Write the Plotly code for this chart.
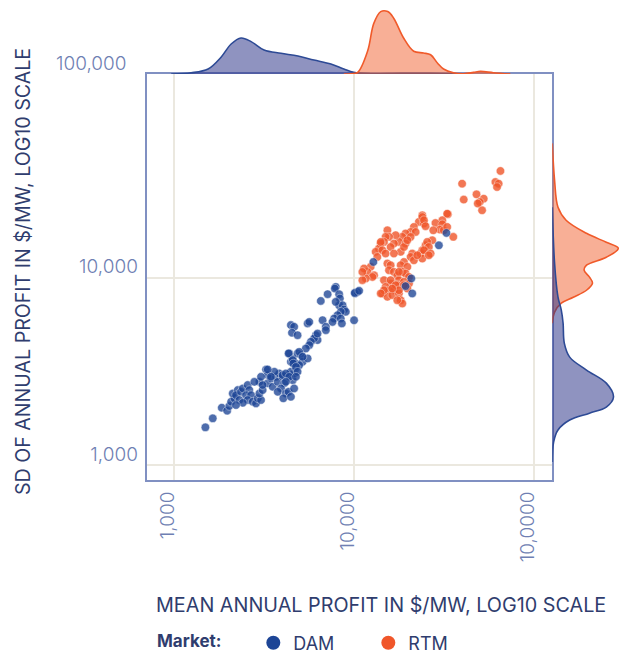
import plotly.graph_objects as go

W, H = 619, 661

# ---------------- data (log10 of $/MW values) ----------------
dam_log_mean = [3.173, 3.214, 3.264, 3.294, 3.306, 3.316, 3.334, 3.325, 3.353, 3.343,
                3.371, 3.381, 3.408, 3.417, 3.399, 3.427, 3.408, 3.436, 3.454, 3.464,
                3.482, 3.362, 3.381, 3.343, 3.473, 3.491, 3.473, 3.510, 3.519, 3.519,
                3.537, 3.547, 3.565, 3.575, 3.583, 3.602, 3.611, 3.593, 3.575, 3.620,
                3.635, 3.606, 3.639, 3.658, 3.666, 3.648, 3.676, 3.666, 3.648, 3.658,
                3.639, 3.685, 3.704, 3.676, 3.713, 3.694, 3.556, 3.491, 3.445, 3.897,
                3.892, 3.852, 3.814, 3.916, 3.920, 3.916, 3.935, 3.943, 3.953, 3.925,
                3.907, 3.888, 3.879, 3.925, 3.931, 4.004, 4.018, 3.999, 3.824, 3.842,
                3.842, 3.787, 3.796, 3.777, 3.759, 3.750, 3.731, 3.694, 3.741, 3.713,
                3.648, 3.666, 3.654, 3.685, 3.741, 3.750, 3.796, 3.635, 3.658, 3.661,
                3.676, 3.685, 3.519, 3.537, 3.602, 3.620, 3.639, 3.482, 3.676, 4.106,
                4.003, 4.027, 4.317, 4.322, 4.285, 4.470, 4.512, 3.897, 3.648, 3.620]
dam_log_sd = [3.201, 3.249, 3.306, 3.290, 3.315, 3.338, 3.356, 3.382, 3.400, 3.373,
              3.391, 3.409, 3.427, 3.400, 3.373, 3.373, 3.347, 3.338, 3.329, 3.356,
              3.347, 3.347, 3.332, 3.320, 3.382, 3.400, 3.444, 3.510, 3.480, 3.436,
              3.462, 3.418, 3.471, 3.444, 3.489, 3.471, 3.436, 3.409, 3.391, 3.382,
              3.391, 3.356, 3.480, 3.453, 3.489, 3.498, 3.516, 3.409, 3.551, 3.569,
              3.596, 3.596, 3.587, 3.542, 3.551, 3.533, 3.498, 3.427, 3.444, 3.951,
              3.942, 3.912, 3.876, 3.912, 3.889, 3.853, 3.853, 3.830, 3.818, 3.818,
              3.800, 3.782, 3.764, 3.782, 3.756, 3.916, 3.924, 3.773, 3.773, 3.738,
              3.720, 3.693, 3.667, 3.676, 3.658, 3.640, 3.622, 3.604, 3.569, 3.578,
              3.747, 3.738, 3.706, 3.693, 3.756, 3.764, 3.702, 3.596, 3.560, 3.542,
              3.524, 3.498, 3.510, 3.471, 3.480, 3.489, 3.471, 3.471, 3.471, 4.084,
              3.919, 3.930, 3.996, 3.916, 3.955, 4.173, 4.239, 3.871, 3.364, 3.444]

rtm_log_mean = [4.378, 4.359, 4.387, 4.331, 4.313, 4.341, 4.285, 4.267, 4.248, 4.230,
                4.184, 4.193, 4.174, 4.165, 4.220, 4.202, 4.147, 4.137, 4.119, 4.156,
                4.128, 4.174, 4.258, 4.285, 4.322, 4.313, 4.368, 4.378, 4.396, 4.378,
                4.331, 4.184, 4.202, 4.276, 4.258, 4.295, 4.193, 4.220, 4.239, 4.267,
                4.285, 4.304, 4.248, 4.276, 4.239, 4.202, 4.165, 4.174, 4.193, 4.220,
                4.156, 4.184, 4.211, 4.248, 4.258, 4.267, 4.239, 4.091, 4.073, 4.054,
                4.110, 4.101, 4.064, 4.045, 4.304, 4.295, 4.812, 4.599, 4.784, 4.802,
                4.793, 4.608, 4.679, 4.719, 4.697, 4.686, 4.710, 4.378, 4.387, 4.520,
                4.489, 4.451, 4.396, 4.489, 4.475, 4.439, 4.497, 4.550, 4.433, 4.405,
                4.414, 4.387, 4.424, 4.516, 4.516, 4.414, 4.350, 4.147, 4.045, 4.220,
                4.276, 4.313, 4.295, 4.248, 4.202, 4.230, 4.276, 4.165, 4.147, 4.248,
                4.211]
rtm_log_sd = [4.333, 4.298, 4.289, 4.271, 4.244, 4.244, 4.236, 4.218, 4.191, 4.227,
              4.253, 4.218, 4.218, 4.191, 4.182, 4.164, 4.182, 4.156, 4.138, 4.147,
              4.111, 4.129, 4.138, 4.182, 4.129, 4.111, 4.129, 4.147, 4.173, 4.102,
              4.093, 4.076, 4.067, 4.084, 4.067, 4.058, 4.040, 4.031, 4.013, 4.031,
              4.022, 4.004, 3.987, 3.978, 3.960, 3.969, 3.987, 3.951, 3.933, 3.933,
              3.916, 3.898, 3.907, 3.916, 3.880, 3.862, 3.880, 4.058, 4.031, 4.049,
              4.013, 4.004, 3.996, 3.987, 3.969, 3.942, 4.570, 4.502, 4.511, 4.502,
              4.484, 4.417, 4.445, 4.422, 4.404, 4.396, 4.360, 4.324, 4.307, 4.339,
              4.307, 4.292, 4.275, 4.285, 4.257, 4.253, 4.253, 4.218, 4.200, 4.191,
              4.164, 4.147, 4.129, 4.271, 4.342, 4.120, 4.120, 4.191, 4.031, 4.129,
              4.164, 4.218, 4.200, 4.031, 3.987, 3.960, 3.960, 3.933, 3.916, 3.933,
              3.942]

# marginal density curves (arbitrary density units)
dam_top_log = [2.983, 3.094, 3.188, 3.26, 3.316, 3.371, 3.427, 3.499, 3.593, 3.687,
               3.776, 3.870, 3.942, 3.997, 4.09, 4.26, 4.42, 4.59]
dam_top_dens = [0.0, 0.02, 0.083, 0.28, 0.5, 0.6, 0.54, 0.4, 0.345, 0.3,
                0.233, 0.167, 0.083, 0.027, 0.005, 0.013, 0.01, 0.0]
rtm_top_log = [3.942, 3.981, 4.019, 4.075, 4.108, 4.147, 4.186, 4.219, 4.274, 4.33,
               4.385, 4.424, 4.463, 4.496, 4.551, 4.607, 4.662, 4.701, 4.773, 4.867]
rtm_top_dens = [0.0, 0.005, 0.027, 0.39, 0.84, 1.04, 1.04, 0.93, 0.6, 0.38,
                0.35, 0.32, 0.18, 0.083, 0.022, 0.005, 0.027, 0.043, 0.022, 0.0]

rtm_right_log = [4.717, 4.52, 4.376, 4.307, 4.237, 4.189, 4.157, 4.109, 4.067, 4.04,
                 4.003, 3.971, 3.933, 3.896, 3.864, 3.816, 3.757]
rtm_right_dens = [0.0, 0.038, 0.095, 0.23, 0.57, 0.9, 1.1, 0.9, 0.57, 0.53,
                  0.62, 0.67, 0.57, 0.35, 0.15, 0.038, 0.0]
dam_right_log = [4.376, 4.077, 3.896, 3.827, 3.757, 3.651, 3.576, 3.507, 3.437, 3.363,
                 3.309, 3.277, 3.24, 3.187, 3.123, 3.016]
dam_right_dens = [0.0, 0.038, 0.095, 0.15, 0.18, 0.2, 0.29, 0.57, 0.9, 1.02,
                  0.9, 0.62, 0.29, 0.095, 0.022, 0.0]

x_tick_vals = [1000, 10000, 100000]
x_tick_text = ["1,000", "10,000", "10,0000"]
y_tick_vals = [1000, 10000]
y_tick_text = ["1,000", "10,000"]
y_top_label = "100,000"

markets = ["DAM", "RTM"]

# ---------------- styling ----------------
DAM_C = "#1d4596"
RTM_C = "#f0562a"
DAM_LINE = "#2d4a95"
RTM_LINE = "#f05a2a"
DAM_FILL = "rgba(40,48,135,0.52)"
RTM_FILL = "rgba(242,95,45,0.5)"
BOX = "#8090c2"
GRID = "#ebe8df"
TICK_C = "#6f7fb3"
TITLE_C = "#2f3d6e"
FONT = "Inter, Lato, sans-serif"

def p10(vals):
    return [10 ** v for v in vals]

fig = go.Figure()

# marginal densities - top
fig.add_trace(go.Scatter(x=p10(dam_top_log), y=dam_top_dens, mode="lines",
                         line=dict(color=DAM_LINE, width=1.6, shape="spline"),
                         fill="tozeroy", fillcolor=DAM_FILL, xaxis="x2", yaxis="y2",
                         showlegend=False, hoverinfo="skip"))
fig.add_trace(go.Scatter(x=p10(rtm_top_log), y=rtm_top_dens, mode="lines",
                         line=dict(color=RTM_LINE, width=1.6, shape="spline"),
                         fill="tozeroy", fillcolor=RTM_FILL, xaxis="x2", yaxis="y2",
                         showlegend=False, hoverinfo="skip"))
# marginal densities - right
fig.add_trace(go.Scatter(x=rtm_right_dens, y=p10(rtm_right_log), mode="lines",
                         line=dict(color=RTM_LINE, width=1.6, shape="spline"),
                         fill="tozerox", fillcolor=RTM_FILL, xaxis="x3", yaxis="y3",
                         showlegend=False, hoverinfo="skip"))
fig.add_trace(go.Scatter(x=dam_right_dens, y=p10(dam_right_log), mode="lines",
                         line=dict(color=DAM_LINE, width=1.6, shape="spline"),
                         fill="tozerox", fillcolor=DAM_FILL, xaxis="x3", yaxis="y3",
                         showlegend=False, hoverinfo="skip"))

# scatter
fig.add_trace(go.Scatter(x=p10(rtm_log_mean), y=p10(rtm_log_sd), mode="markers",
                         marker=dict(size=8.5, color=RTM_C, opacity=0.8,
                                     line=dict(color="white", width=0.5)),
                         showlegend=False, name="RTM"))
fig.add_trace(go.Scatter(x=p10(dam_log_mean), y=p10(dam_log_sd), mode="markers",
                         marker=dict(size=8.5, color=DAM_C, opacity=0.78,
                                     line=dict(color="white", width=0.5)),
                         showlegend=False, name="DAM"))

# legend entries
for name, col in zip(markets, [DAM_C, RTM_C]):
    fig.add_trace(go.Scatter(x=[None], y=[None], mode="markers", name=name,
                             marker=dict(size=14, color=col)))

xd = [146.7 / W, 552.3 / W]
yd = [1 - 480 / H, 1 - 74 / H]
xr = [2.847, 5.1]
yr = [2.92, 5.0875]

fig.update_layout(
    width=W, height=H,
    margin=dict(l=0, r=0, t=0, b=0, autoexpand=False),
    paper_bgcolor="white", plot_bgcolor="white",
    font=dict(family=FONT, color=TICK_C),
    xaxis=dict(type="log", domain=xd, range=xr, anchor="y", automargin=False,
               tickvals=x_tick_vals, ticktext=x_tick_text, tickangle=-90,
               ticks="", ticklabelstandoff=2, ticklabelshift=-6,
               tickfont=dict(size=19, color=TICK_C, family=FONT, weight=300),
               showgrid=True, gridcolor=GRID, gridwidth=1.5,
               showline=True, linecolor=BOX, linewidth=2, mirror=True, zeroline=False),
    yaxis=dict(type="log", domain=yd, range=yr, anchor="x", automargin=False,
               tickvals=y_tick_vals, ticktext=y_tick_text,
               ticks="", ticklabelstandoff=3, ticklabelshift=-11,
               tickfont=dict(size=19, color=TICK_C, family=FONT, weight=300),
               showgrid=True, gridcolor=GRID, gridwidth=1.5,
               showline=True, linecolor=BOX, linewidth=2, mirror=True, zeroline=False),
    xaxis2=dict(type="log", domain=xd, range=xr, matches="x", anchor="y2",
                visible=False, automargin=False),
    yaxis2=dict(domain=[yd[1], 1.0], range=[0, 74 / 60], anchor="x2", visible=False,
                automargin=False),
    xaxis3=dict(domain=[xd[1], 1.0], range=[0, 66.7 / 60], anchor="y3", visible=False,
                automargin=False),
    yaxis3=dict(type="log", domain=yd, range=yr, matches="y", anchor="x3",
                visible=False, automargin=False),
    legend=dict(orientation="h", x=155 / W, xanchor="left", y=1 - 643 / H,
                yanchor="middle", bgcolor="rgba(0,0,0,0)",
                font=dict(size=18, color=TITLE_C, family=FONT),
                title=dict(text="<b>Market:</b>&nbsp;&nbsp;&nbsp;&nbsp;&nbsp;",
                           side="left",
                           font=dict(size=17, color=TITLE_C, family=FONT)),
                entrywidth=70, entrywidthmode="pixels", itemwidth=30,
                tracegroupgap=0),
    annotations=[
        dict(text="MEAN ANNUAL PROFIT IN $/MW, LOG10 SCALE", xref="paper", yref="paper",
             x=381 / W, y=1 - 605 / H, xanchor="center", yanchor="middle",
             showarrow=False, font=dict(size=19.8, color=TITLE_C, family=FONT)),
        dict(text="SD OF ANNUAL PROFIT IN $/MW, LOG10 SCALE", xref="paper", yref="paper",
             x=23 / W, y=1 - 272 / H, xanchor="center", yanchor="middle", textangle=-90,
             showarrow=False, font=dict(size=19.6, color=TITLE_C, family=FONT)),
        dict(text=y_top_label, xref="paper", yref="paper",
             x=129 / W, y=1 - 63.5 / H, xanchor="right", yanchor="middle",
             showarrow=False, font=dict(size=19, color=TICK_C, family=FONT, weight=300)),
    ],
)

fig.write_html("out.html", config={"displayModeBar": False},
               post_script="document.body.style.margin='0px';")
